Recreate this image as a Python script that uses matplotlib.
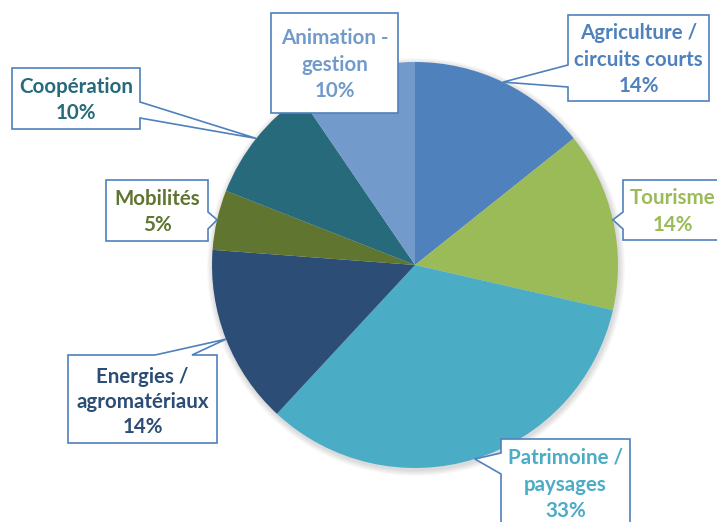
import matplotlib
matplotlib.use("Agg")
import matplotlib.pyplot as plt
from matplotlib.patches import Polygon, Circle
import numpy as np

# ---- data ----
categories = ["Agriculture /\ncircuits courts", "Tourisme", "Patrimoine /\npaysages",
              "Energies /\nagromatériaux", "Mobilités", "Coopération", "Animation -\ngestion"]
projects = [3, 3, 7, 3, 1, 2, 2]
colors = ["#4F81BD", "#9BBB59", "#4BACC6", "#2C4D75", "#5F7530", "#276A7C", "#729ACA"]

W, H = 717, 522
fig = plt.figure(figsize=(W / 100, H / 100), dpi=100)
ax = fig.add_axes([0, 0, 1, 1])

CX, CY, R = 415, H - 265, 203

# soft shadow
for k in range(6, 0, -1):
    ax.add_patch(Circle((CX + 1, CY - 2), R + k, facecolor="#000000", alpha=0.025,
                        edgecolor="none", zorder=0))

wedges, _ = ax.pie(projects, colors=colors, startangle=90, counterclock=False,
                   center=(CX, CY), radius=R,
                   wedgeprops=dict(linewidth=0))
for w in wedges:
    w.set_zorder(1)

ax.set_xlim(0, W)
ax.set_ylim(0, H)
ax.set_aspect("equal")
ax.axis("off")

FAMILY = ["Lato", "DejaVu Sans"]
# fit font size so that 'agromatériaux' is ~131 px wide
renderer = fig.canvas.get_renderer()
t = fig.text(0, 0, "agromatériaux", fontsize=10, fontweight="bold", family=FAMILY)
wpx = t.get_window_extent(renderer).width
t.remove()
FS = 10 * 132 / wpx

# box layouts in pixel coords (y downward): x0, y0, x1, y1, pointer side, base0, base1, line centres
layout = [
    (568, 15, 709, 101, "left", 65, 87, [33, 60, 86]),
    (623, 180, 722, 240, "left", 212, 229, [198, 225]),
    (501, 439, 630, 532, "left", 453, 474, [458, 485, 511]),
    (68, 355, 217, 443, "top", 155, 192, [377, 402, 427]),
    (106, 180, 208, 241, "right", 212, 229, [199, 225]),
    (12, 68, 140, 129, "right", 102, 118, [87, 113]),
    (271, 13, 398, 113, None, 0, 0, [38, 65, 91]),
]

total = sum(projects)
for w, cat, val, col, lay in zip(wedges, categories, projects, colors, layout):
    x0, y0, x1, y1, side, b0, b1, ys = lay
    mid = np.deg2rad((w.theta1 + w.theta2) / 2)
    tip = (CX + R * np.cos(mid), CY + R * np.sin(mid))
    Y = lambda y: H - y
    tl, tr, br, bl = (x0, Y(y0)), (x1, Y(y0)), (x1, Y(y1)), (x0, Y(y1))
    if side == "top":
        pts = [tl, (b0, Y(y0)), tip, (b1, Y(y0)), tr, br, bl]
    elif side == "right":
        pts = [tl, tr, (x1, Y(b0)), tip, (x1, Y(b1)), br, bl]
    elif side == "left":
        pts = [tl, tr, br, bl, (x0, Y(b1)), tip, (x0, Y(b0))]
    else:
        pts = [tl, tr, br, bl]
    ax.add_patch(Polygon(pts, closed=True, facecolor="white", edgecolor="#4F81BD",
                         linewidth=1.2, zorder=3))
    lines = cat.split("\n") + [f"{round(100 * val / total)}%"]
    cx = (x0 + x1) / 2
    for line, yy in zip(lines, ys):
        ax.text(cx, Y(yy), line, ha="center", va="center", fontsize=FS,
                fontweight="bold", family=FAMILY, color=col, zorder=4)

fig.savefig("out.png", dpi=100)
